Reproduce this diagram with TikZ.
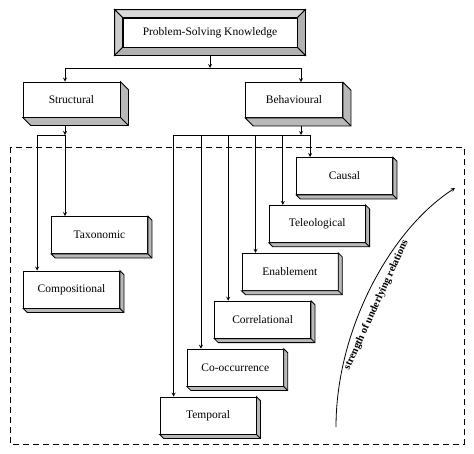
\documentclass[tikz,border=0pt]{standalone}
\usepackage{fontspec}
\setmainfont{Liberation Serif}
\usetikzlibrary{positioning, arrows, calc}
\tikzset{
	>=stealth,
	node distance=47.9pt,
	align=center,
	every path/.style={line width=0.8pt},
	label font/.style={font=\fontsize{11.5}{13.8}\selectfont},
	topbox/.style={draw, fill=white, label font, minimum width=174pt, minimum height=29pt, inner sep=0pt},
	block/.style={draw, fill=white, label font, minimum width=97pt, minimum height=35pt, inner sep=0pt},
	leaf/.style={draw, fill=white, label font, minimum width=96pt, minimum height=37pt, inner sep=0pt}
}
% side faces of a raised box, #1 node, #2 depth
\newcommand{\slab}[2]{
	\filldraw[fill=gray!55] (#1.north east) -- ([shift={(#2,-#2)}]#1.north east) -- ([shift={(#2,-#2)}]#1.south east)
		-- ([shift={(#2,-#2)}]#1.south west) -- (#1.south west) -- (#1.south east) -- cycle;
	\draw (#1.south east) -- ([shift={(#2,-#2)}]#1.south east);
}
% bevel frame round a node, #1 node, #2 width
\newcommand{\bevel}[2]{
	\filldraw[fill=gray!30] ([shift={(-#2,#2)}]#1.north west) -- ([shift={(#2,#2)}]#1.north east) -- (#1.north east) -- (#1.north west) -- cycle;
	\filldraw[fill=gray!40] ([shift={(-#2,#2)}]#1.north west) -- (#1.north west) -- (#1.south west) -- ([shift={(-#2,-#2)}]#1.south west) -- cycle;
	\filldraw[fill=gray!60] ([shift={(#2,#2)}]#1.north east) -- ([shift={(#2,-#2)}]#1.south east) -- (#1.south east) -- (#1.north east) -- cycle;
	\filldraw[fill=gray!60] ([shift={(-#2,-#2)}]#1.south west) -- (#1.south west) -- (#1.south east) -- ([shift={(#2,-#2)}]#1.south east) -- cycle;
}

\begin{document}
\begin{tikzpicture}[x=1pt, y=-1pt]
	\useasboundingbox (0,0) rectangle (474,453);
	
	\node[topbox] (psk) at (210,32.5) {Problem-Solving Knowledge};
	\bevel{psk}{8pt}
	
	\node[block] (struct) at (71.5,99.5) {Structural};
	\node[block] (behav) at (294,100) {Behavioural};
	\slab{struct}{8pt}
	\slab{behav}{8pt}
	
	\node[leaf] (taxo) at (99.5,235) {Taxonomic};
	\node[leaf] (compo) at (71.5,289.5) {Compositional};
	
	\node[leaf] (causal) at (344.5,176) {Causal};
	\node[leaf, below of=causal, xshift=-27.3pt] (teleo) {Teleological};
	\node[leaf, below of=teleo, xshift=-27.3pt] (enable) {Enablement};
	\node[leaf, below of=enable, xshift=-27.3pt] (correl) {Correlational};
	\node[leaf, below of=correl, xshift=-27.3pt] (cooccur) {Co-occurrence};
	\node[leaf, below of=cooccur, xshift=-27.3pt] (temporal) {Temporal};
	\foreach \n in {taxo, compo, causal, teleo, enable, correl, cooccur, temporal}
		\slab{\n}{4pt};
	
	% first split
	\coordinate (hub) at (210,68);
	\draw[->] ([yshift=-8pt]psk.south) -- (hub);
	\draw[->] (hub) -| ([xshift=-6.5pt]struct.north);
	\draw[->] (hub) -| ([xshift=7pt]behav.north);
	
	% structural relations
	\coordinate (sbus) at (65,135);
	\draw[->] ([shift={(-6.5pt,-8pt)}]struct.south) -- (sbus);
	\draw[->] (sbus) -- (sbus |- taxo.north);
	\draw[->] (sbus) -| ([xshift=14pt]compo.north west);
	
	% behavioural relations
	\coordinate (bbus) at (301,135);
	\draw[->] ([shift={(7pt,-8pt)}]behav.south) -- (bbus);
	\draw[->] (bbus) -| ([xshift=14pt]causal.north west);
	\draw[->] (bbus) -| ([xshift=14pt]teleo.north west);
	\draw[->] (bbus) -| ([xshift=14pt]enable.north west);
	\draw[->] (bbus) -| ([xshift=14pt]correl.north west);
	\draw[->] (bbus) -| ([xshift=14pt]cooccur.north west);
	\draw[->] (bbus) -| ([xshift=14pt]temporal.north west);
	
	\draw[dash pattern=on 6pt off 4pt] (10,147) rectangle (464,444);
	
	\coordinate (weak) at (336,427);
	\coordinate (strong) at (455,188);
	\draw[->] (weak) .. controls (336,330) and (390,230) .. node[sloped, below=4pt, pos=0.45, font=\bfseries\fontsize{10.5}{12}\selectfont]{strength of underlying relations} (strong);
\end{tikzpicture}
\end{document}
